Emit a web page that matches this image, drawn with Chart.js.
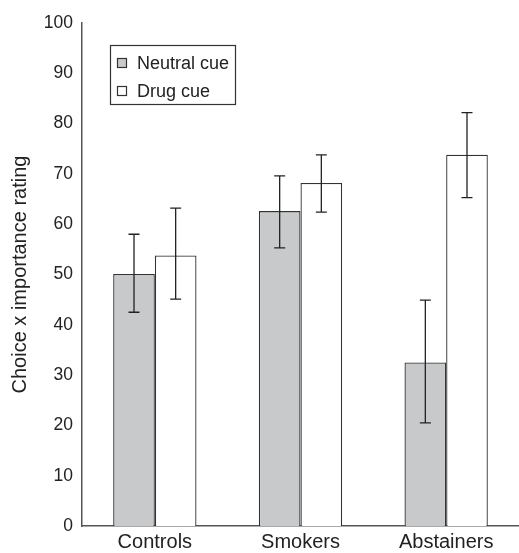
<!DOCTYPE html>
<html>
  <head>
    <meta charset="UTF-8" />
    <script src="https://cdn.jsdelivr.net/npm/chart.js"></script>
    <style>
      html, body { margin: 0; padding: 0; background: #fff; }
      #wrap { position: relative; width: 519px; height: 553px; }
    </style>
  </head>
  <body>
    <div id="wrap"><canvas id="ratingChart" width="519" height="553"></canvas></div>
    <script>
      // 데이터
      const groups = ["Controls", "Smokers", "Abstainers"];
      const seriesNames = ["Neutral cue", "Drug cue"];
      const neutralMeans = [50.1, 62.6, 32.5];
      const neutralLow = [42.5, 55.3, 20.5];
      const neutralHigh = [58.0, 69.6, 44.9];
      const drugMeans = [53.8, 68.2, 73.8];
      const drugLow = [45.1, 62.4, 65.3];
      const drugHigh = [63.2, 73.8, 82.2];
      const yTicks = [0, 10, 20, 30, 40, 50, 60, 70, 80, 90, 100];

      const fontFam = "'Liberation Sans', Arial, sans-serif";
      const lowHigh = [
        [neutralLow, neutralHigh],
        [drugLow, drugHigh],
      ];

      // 오차막대
      const errorBars = {
        id: "errorBars",
        afterDatasetsDraw(chart) {
          const c = chart.ctx;
          const y = chart.scales.y;
          c.save();
          c.strokeStyle = "#222";
          c.lineWidth = 1.3;
          chart.data.datasets.forEach((ds, i) => {
            chart.getDatasetMeta(i).data.forEach((bar, j) => {
              const x = bar.x;
              const top = y.getPixelForValue(lowHigh[i][1][j]);
              const bot = y.getPixelForValue(lowHigh[i][0][j]);
              c.beginPath();
              c.moveTo(x, top); c.lineTo(x, bot);
              c.moveTo(x - 5.5, top); c.lineTo(x + 5.5, top);
              c.moveTo(x - 5.5, bot); c.lineTo(x + 5.5, bot);
              c.stroke();
            });
          });
          c.restore();
        },
      };

      // 범례 상자
      const boxLegend = {
        id: "boxLegend",
        afterDraw(chart) {
          const c = chart.ctx;
          c.save();
          c.strokeStyle = "#333";
          c.lineWidth = 1.2;
          c.strokeRect(110.5, 45.5, 125, 59);
          c.font = "18px " + fontFam;
          c.textBaseline = "middle";
          chart.data.datasets.forEach((ds, i) => {
            const cy = 63 + i * 28;
            c.fillStyle = ds.backgroundColor;
            c.fillRect(117.5, cy - 4.5, 9, 9);
            c.strokeRect(117.5, cy - 4.5, 9, 9);
            c.fillStyle = "#222";
            c.fillText(ds.label, 137, cy + 1);
          });
          c.restore();
        },
      };

      const ctx = document.getElementById("ratingChart").getContext("2d");
      new Chart(ctx, {
        type: "bar",
        data: {
          labels: groups,
          datasets: [
            {
              label: seriesNames[0],
              data: neutralMeans,
              backgroundColor: "#c8c9cb",
              borderColor: "#333",
              borderWidth: 1.3,
            },
            {
              label: seriesNames[1],
              data: drugMeans,
              backgroundColor: "#ffffff",
              borderColor: "#333",
              borderWidth: 1.3,
            },
          ],
        },
        options: {
          responsive: false,
          animation: false,
          layout: { padding: { top: 23, right: 0, bottom: 0, left: 0 } },
          datasets: { bar: { categoryPercentage: 0.572, barPercentage: 1.0 } },
          plugins: { legend: { display: false }, tooltip: { enabled: false } },
          scales: {
            x: {
              grid: { display: false, drawTicks: false },
              border: { color: "#555", width: 1.5 },
              ticks: { color: "#222", font: { size: 20, family: fontFam }, padding: 4 },
              afterFit(s) { s.height = 27; },
            },
            y: {
              min: 0,
              max: 100,
              afterBuildTicks(s) { s.ticks = yTicks.map((v) => ({ value: v })); },
              grid: { display: false, drawTicks: false },
              border: { color: "#555", width: 1.5 },
              ticks: { color: "#222", font: { size: 17.5, family: fontFam }, padding: 9 },
              title: {
                display: true,
                text: "Choice x importance rating",
                color: "#222",
                font: { size: 20, family: fontFam },
                padding: { top: 8, bottom: 4 },
              },
              afterFit(s) { s.width = 82; },
            },
          },
        },
        plugins: [errorBars, boxLegend],
      });
    </script>
  </body>
</html>
